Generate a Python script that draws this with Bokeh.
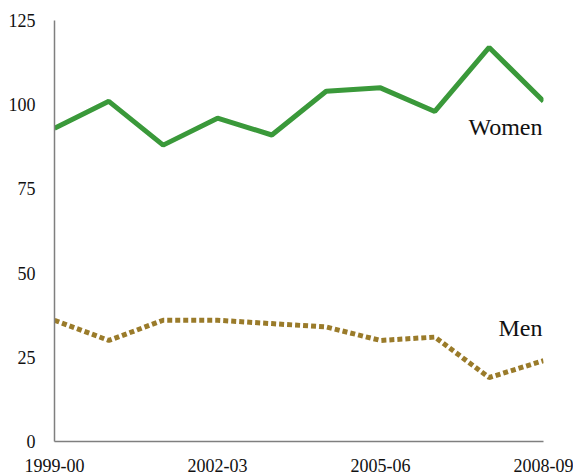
from bokeh.plotting import figure
from bokeh.models import Range1d, FixedTicker, Label
from bokeh.embed import file_html
from bokeh.resources import INLINE

years = ["1999-00", "2000-01", "2001-02", "2002-03", "2003-04",
         "2004-05", "2005-06", "2006-07", "2007-08", "2008-09"]
women = [93, 101, 88, 96, 91, 104, 105, 98, 117, 101]
men = [36, 30, 36, 36, 35, 34, 30, 31, 19, 24]
y_ticks = [0, 25, 50, 75, 100, 125]
x_tick_idx = [0, 3, 6, 9]

xs = list(range(len(years)))
FONT = "Liberation Serif"

p = figure(width=573, height=474, output_backend="svg", toolbar_location=None,
           x_range=Range1d(0, len(years) - 1), y_range=Range1d(0, 125),
           min_border_left=54, min_border_right=30, min_border_top=20,
           min_border_bottom=29)
p.outline_line_color = None
p.xgrid.visible = False
p.ygrid.visible = False

p.line(xs, women, line_color="#3a993a", line_width=5)
p.line(xs, men, line_color="#9a7b2a", line_width=5, line_dash="5 3")

p.add_layout(Label(x=9, y=93.5, x_offset=-1, text="Women", text_align="right",
                   text_baseline="middle", text_font=FONT, text_font_size="24px",
                   text_color="#111111"))
p.add_layout(Label(x=9, y=33.8, x_offset=-1, text="Men", text_align="right",
                   text_baseline="middle", text_font=FONT, text_font_size="24px",
                   text_color="#111111"))

for ax in (p.xaxis[0], p.yaxis[0]):
    ax.axis_line_color = "#7f7f7f"
    ax.axis_line_width = 1.5
    ax.major_tick_line_color = None
    ax.minor_tick_line_color = None
    ax.major_label_text_font = FONT
    ax.major_label_text_font_size = "18px"
    ax.major_label_text_color = "#111111"

p.xaxis.ticker = FixedTicker(ticks=x_tick_idx)
p.xaxis.major_label_overrides = {i: years[i] for i in x_tick_idx}
p.xaxis.major_label_standoff = 11
p.yaxis.ticker = FixedTicker(ticks=y_ticks)
p.yaxis.major_label_standoff = 13

open("out.html", "w").write(file_html(p, INLINE))
